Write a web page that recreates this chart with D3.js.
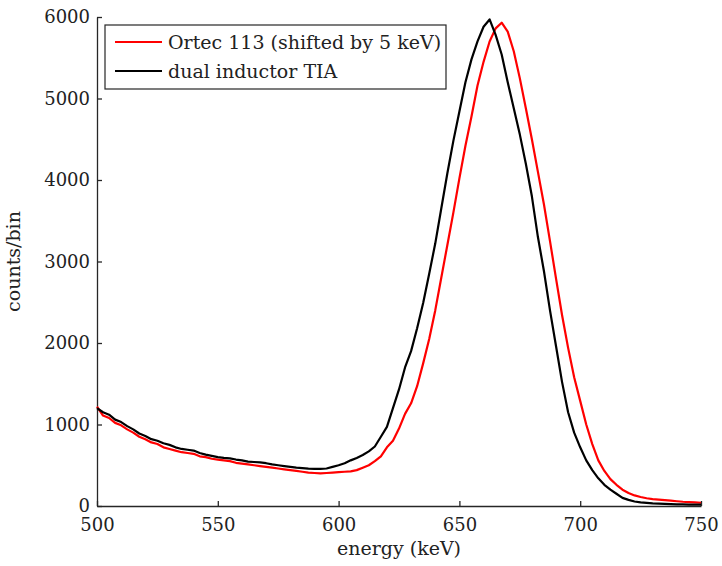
<!DOCTYPE html>
<html>
<head>
<meta charset="utf-8">
<script src="https://cdn.jsdelivr.net/npm/d3@7"></script>
<style>
  body { margin: 0; background: #fff; }
  text { font-family: "DejaVu Serif", serif; fill: #222; }
</style>
</head>
<body>
<div id="chart"></div>
<script>
// energy grid (keV), one reading every 2.5 keV
const energy = d3.range(101).map(i => 500 + i * 2.5);

// dual inductor TIA, counts/bin
const dualTIA = [
    1200, 1150, 1120, 1060, 1030, 980, 940, 890, 860, 820,
    800, 770, 750, 720, 700, 690, 680, 650, 630, 615,
    600, 590, 585, 570, 560, 545, 540, 535, 525, 510,
    500, 490, 480, 470, 465, 458, 455, 455, 460, 480,
    500, 525, 560, 590, 625, 670, 730, 850, 970, 1200,
    1430, 1700, 1900, 2180, 2490, 2850, 3220, 3650, 4080, 4480,
    4840, 5200, 5480, 5700, 5880, 5970, 5780, 5540, 5200, 4880,
    4560, 4200, 3800, 3300, 2880, 2400, 1960, 1520, 1150, 900,
    720, 560, 440, 340, 260, 200, 150, 100, 75, 55,
    45, 38, 32, 28, 25, 22, 20, 20, 18, 18, 18
];

// Ortec 113 (shifted by 5 keV)
const ortec = [
    1220, 1110, 1080, 1020, 990, 940, 900, 850, 820, 780,
    760, 720, 700, 680, 660, 650, 640, 610, 600, 580,
    570, 560, 550, 530, 520, 510, 500, 490, 480, 470,
    460, 450, 440, 430, 420, 410, 405, 400, 405, 410,
    415, 420, 425, 440, 470, 500, 550, 610, 720, 800,
    950, 1130, 1260, 1470, 1750, 2050, 2400, 2800, 3200, 3600,
    4020, 4420, 4780, 5160, 5450, 5700, 5860, 5930, 5820, 5580,
    5250, 4880, 4500, 4100, 3700, 3250, 2790, 2340, 1940, 1580,
    1290, 1000, 760, 560, 430, 330, 260, 200, 160, 130,
    110, 95, 85, 78, 72, 65, 58, 52, 48, 44, 40
];

const xTicks = [500, 550, 600, 650, 700, 750];
const yTicks = [0, 1000, 2000, 3000, 4000, 5000, 6000];

const legendLabels = ["Ortec 113 (shifted by 5 keV)", "dual inductor TIA"];
const seriesColors = ["#ff0000", "#000000"];

const margin = { top: 17, right: 21, bottom: 60, left: 97 };
const totalWidth = 722, totalHeight = 566;
const width = totalWidth - margin.left - margin.right;
const height = totalHeight - margin.top - margin.bottom;

const svg = d3.select("#chart")
    .append("svg")
    .attr("width", totalWidth)
    .attr("height", totalHeight)
    .append("g")
    .attr("transform", `translate(${margin.left}, ${margin.top})`);

const x = d3.scaleLinear().domain([500, 750]).range([0, width]);
const y = d3.scaleLinear().domain([0, 6000]).range([height, 0]);

// ticks point inwards, no box on top/right
const xAxis = svg.append("g")
    .attr("transform", `translate(0, ${height})`)
    .call(d3.axisBottom(x).tickValues(xTicks).tickFormat(d3.format("d"))
        .tickSizeInner(-5).tickSizeOuter(0).tickPadding(12));

const yAxis = svg.append("g")
    .call(d3.axisLeft(y).tickValues(yTicks).tickFormat(d3.format("d"))
        .tickSizeInner(-5).tickSizeOuter(0).tickPadding(7));

[xAxis, yAxis].forEach(ax => {
    ax.select(".domain").attr("stroke", "#262626").attr("stroke-width", 1.3);
    ax.selectAll(".tick line").attr("stroke", "#262626").attr("stroke-width", 1.3);
    ax.selectAll(".tick text").style("font-size", "18px").attr("fill", "#222");
});

svg.append("text")
    .attr("x", width / 2)
    .attr("y", height + 49)
    .attr("text-anchor", "middle")
    .style("font-size", "19px")
    .text("energy (keV)");

svg.append("text")
    .attr("transform", `translate(${-77}, ${height / 2}) rotate(-90)`)
    .attr("text-anchor", "middle")
    .style("font-size", "19px")
    .text("counts/bin");

const line = d3.line()
    .x((d, i) => x(energy[i]))
    .y(d => y(d));

[ortec, dualTIA].forEach((values, i) => {
    svg.append("path")
        .datum(values)
        .attr("fill", "none")
        .attr("stroke", seriesColors[i])
        .attr("stroke-width", 2.2)
        .attr("stroke-linejoin", "round")
        .attr("d", line);
});

// legend
const legend = svg.append("g").attr("transform", "translate(8, 8)");

legend.append("rect")
    .attr("width", 341)
    .attr("height", 64)
    .attr("fill", "#fff")
    .attr("stroke", "#262626")
    .attr("stroke-width", 1.2);

legendLabels.forEach((label, i) => {
    const ly = 17 + i * 29;
    legend.append("line")
        .attr("x1", 10).attr("x2", 57)
        .attr("y1", ly).attr("y2", ly)
        .attr("stroke", seriesColors[i])
        .attr("stroke-width", 2);
    legend.append("text")
        .attr("x", 63)
        .attr("y", ly)
        .attr("dy", "0.35em")
        .style("font-size", "19px")
        .text(label);
});
</script>
</body>
</html>
